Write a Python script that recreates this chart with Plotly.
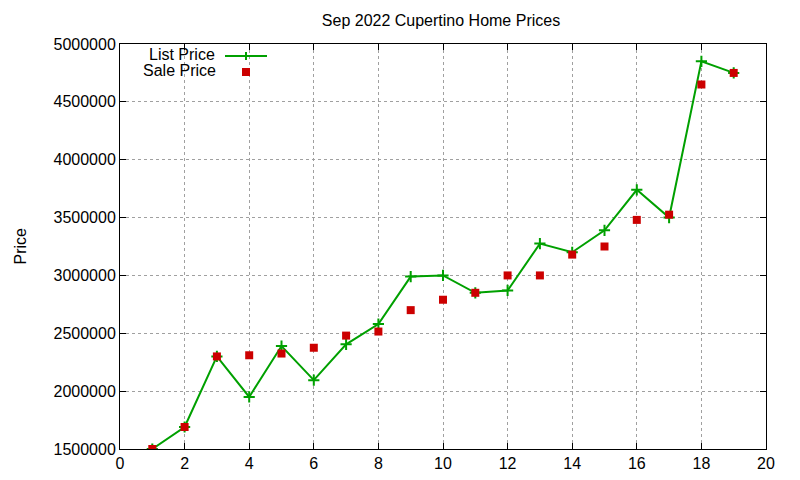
"""Sep 2022 Cupertino home prices: list price vs sale price per home."""

import plotly.graph_objects as go

# one entry per home sold
home_index = list(range(1, 20))
list_price = [
    1500000, 1690000, 2300000, 1950000, 2390000, 2095000, 2405000, 2580000, 2990000, 3000000,
    2850000, 2870000, 3275000, 3200000, 3390000, 3740000, 3500000, 4850000, 4750000,
]
sale_price = [
    1500000, 1690000, 2300000, 2310000, 2325000, 2375000, 2480000, 2515000, 2700000, 2790000,
    2850000, 3000000, 3000000, 3180000, 3250000, 3480000, 3525000, 4650000, 4750000,
]

GREEN = "#00a000"
RED = "#cc0000"
FONT = "Liberation Sans, Arial, sans-serif"

# page body adds an 8px margin, so work in page pixels and shift back
OFF = 8
FIG_W, FIG_H = 800, 480
# plot area edges as seen on the page
LEFT, RIGHT, TOP, BOTTOM = 120, 766, 44, 449
L = LEFT - OFF
T = TOP - OFF
R = FIG_W - (RIGHT - OFF)
B = FIG_H - (BOTTOM - OFF)
W, H = RIGHT - LEFT, BOTTOM - TOP


def px_x(p):
    return (p - LEFT) / W


def px_y(p):
    return (BOTTOM - p) / H


fig = go.Figure()
fig.add_trace(
    go.Scatter(
        x=home_index, y=list_price, mode="lines+markers", name="List Price",
        line=dict(color=GREEN, width=2),
        marker=dict(symbol="cross-thin", size=8, line=dict(color=GREEN, width=2)),
    )
)
fig.add_trace(
    go.Scatter(
        x=home_index, y=sale_price, mode="markers", name="Sale Price",
        marker=dict(symbol="square", size=8, color=RED),
    )
)

axis_style = dict(
    showline=True, linecolor="black", linewidth=1, mirror="allticks",
    ticks="inside", ticklen=6, tickcolor="black",
    showgrid=True, gridcolor="#a0a0a0", griddash="dot", gridwidth=1,
    zeroline=False, tickfont=dict(size=16, color="black"),
)
fig.update_xaxes(range=[0, 20], dtick=2, **axis_style)
fig.update_yaxes(range=[1500000, 5000000], dtick=500000, tickformat="d", **axis_style)

# gnuplot-style key: label on the left, sample on the right
shapes = [
    dict(type="line", xref="paper", yref="paper", x0=px_x(225), x1=px_x(267),
         y0=px_y(56), y1=px_y(56), line=dict(color=GREEN, width=2)),
    dict(type="line", xref="paper", yref="paper", x0=px_x(246), x1=px_x(246),
         y0=px_y(52), y1=px_y(60), line=dict(color=GREEN, width=2)),
    dict(type="rect", xref="paper", yref="paper", x0=px_x(242), x1=px_x(250),
         y0=px_y(68), y1=px_y(76), fillcolor=RED, line=dict(width=0)),
]
annotations = [
    dict(text="List Price", xref="paper", yref="paper", x=px_x(217), y=px_y(55),
         xanchor="right", yanchor="middle", showarrow=False, font=dict(size=16, color="black")),
    dict(text="Sale Price", xref="paper", yref="paper", x=px_x(218), y=px_y(71),
         xanchor="right", yanchor="middle", showarrow=False, font=dict(size=16, color="black")),
    dict(text="Price", xref="paper", yref="paper", x=px_x(9), y=px_y(246),
         xanchor="left", yanchor="middle", textangle=-90, showarrow=False,
         font=dict(size=16, color="black")),
]

fig.update_layout(
    width=FIG_W, height=FIG_H,
    margin=dict(l=L, r=R, t=T, b=B),
    paper_bgcolor="white", plot_bgcolor="white",
    font=dict(family=FONT, size=16, color="black"),
    title=dict(text="Sep 2022 Cupertino Home Prices", x=(441 - OFF) / FIG_W, xanchor="center",
               y=1 - (20 - OFF) / FIG_H, yanchor="middle", font=dict(size=16, color="black")),
    showlegend=False,
    shapes=shapes,
    annotations=annotations,
)

fig.write_html("out.html")
